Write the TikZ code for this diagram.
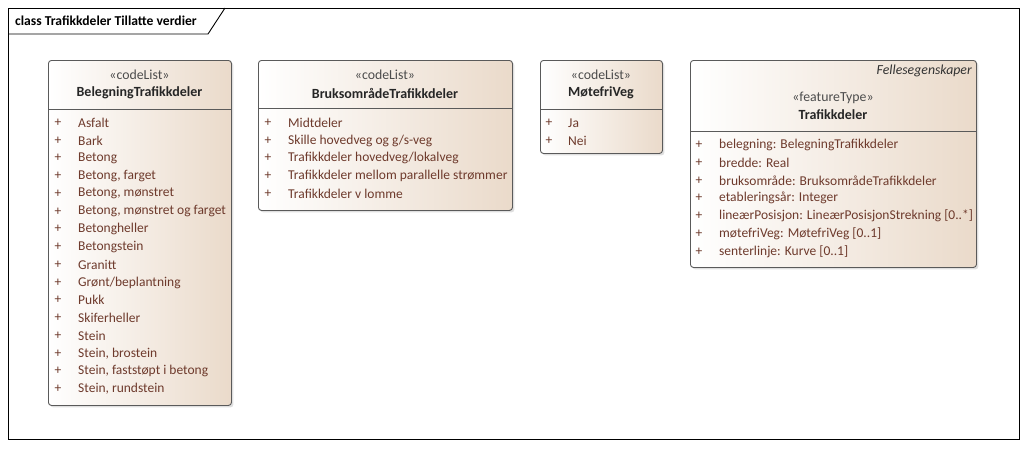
\documentclass[tikz,border=0pt]{standalone}
\usepackage{fontspec}
\setmainfont{Carlito}
\usetikzlibrary{shadows}
\definecolor{boxtan}{HTML}{EADACA}
\definecolor{itemtxt}{HTML}{6E3A2C}
\definecolor{boxline}{HTML}{5A5A5A}
\tikzset{
  umlbox/.style={draw=boxline, line width=0.9pt, rounded corners=3pt, left color=white, right color=boxtan,
    drop shadow={shadow xshift=2pt, shadow yshift=-2pt, opacity=0.25}, anchor=north west, inner sep=0pt},
  sepline/.style={draw=boxline, line width=0.9pt},
  stereo/.style={text=black!70, font=\fontsize{13.8}{15}\selectfont, inner sep=0pt},
  cname/.style={text=black!85, font=\fontsize{14}{15}\selectfont\bfseries, inner sep=0pt},
  plus/.style={text=itemtxt, font=\fontsize{13.5}{15}\selectfont, inner sep=0pt},
  item/.style={anchor=west, text=itemtxt, font=\fontsize{13.5}{15}\selectfont, inner sep=0pt}
}

\begin{document}
\begin{tikzpicture}[x=1pt, y=-1pt]
\useasboundingbox (0,0) rectangle (1028,448);
\draw[line width=0.9pt] (8,8) rectangle (1019,439);
\draw[line width=0.9pt] (8,34) -- (208,34) -- (225,8);
\node[anchor=west, inner sep=0pt, font=\fontsize{13.6}{15}\selectfont\bfseries] (title) at (15,21) {class Trafikkdeler Tillatte verdier};

\node[umlbox, minimum width=183pt, minimum height=345pt] (beleg) at (48,60) {};
\draw[sepline] (beleg.west |- 0,109) -- (beleg.east |- 0,109);
\node[stereo] (belegst) at (139.5,75) {«codeList»};
\node[cname] (belegnm) at (139.5,93) {BelegningTrafikkdeler};
\foreach \t [count=\i] in {Asfalt, Bark, Betong, {Betong, farget}, {Betong, mønstret}, {Betong, mønstret og farget},
  Betongheller, Betongstein, Granitt, Grønt/beplantning, Pukk, Skiferheller, Stein, {Stein, brostein},
  {Stein, faststøpt i betong}, {Stein, rundstein}}
{
  \node[plus] (bp\i) at (58,105+17.75*\i) {+};
  \node[item] (bi\i) at (78,105+17.75*\i) {\t};
}

\node[umlbox, minimum width=254pt, minimum height=150pt] (bruk) at (258,60) {};
\draw[sepline] (bruk.west |- 0,108) -- (bruk.east |- 0,108);
\node[stereo] (brukst) at (385,75) {«codeList»};
\node[cname] (bruknm) at (385,93) {BruksområdeTrafikkdeler};
\foreach \t [count=\i] in {Midtdeler, Skille hovedveg og g/s-veg, Trafikkdeler hovedveg/lokalveg,
  Trafikkdeler mellom parallelle strømmer, Trafikkdeler v lomme}
{
  \node[plus] (rp\i) at (268,105+17.75*\i) {+};
  \node[item] (ri\i) at (288,105+17.75*\i) {\t};
}

\node[umlbox, minimum width=122pt, minimum height=93pt] (mote) at (540,60) {};
\draw[sepline] (mote.west |- 0,109) -- (mote.east |- 0,109);
\node[stereo] (motest) at (601,75) {«codeList»};
\node[cname] (motenm) at (601,93) {MøtefriVeg};
\foreach \t [count=\i] in {Ja, Nei}
{
  \node[plus] (mp\i) at (549,105+17.75*\i) {+};
  \node[item] (mi\i) at (568,105+17.75*\i) {\t};
}

\node[umlbox, minimum width=286pt, minimum height=207pt] (trafikk) at (690,60) {};
\draw[sepline] (trafikk.west |- 0,131) -- (trafikk.east |- 0,131);
\node[anchor=east, inner sep=0pt, text=black!80, font=\fontsize{13.8}{15}\selectfont\itshape] (felles) at (972,71) {Fellesegenskaper};
\node[stereo] (trafikkst) at (833,98) {«featureType»};
\node[cname] (trafikknm) at (833,115) {Trafikkdeler};
\foreach \t [count=\i] in {belegning: BelegningTrafikkdeler, bredde: Real, bruksområde: BruksområdeTrafikkdeler,
  etableringsår: Integer, lineærPosisjon: LineærPosisjonStrekning [0..*], møtefriVeg: MøtefriVeg [0..1],
  senterlinje: Kurve [0..1]}
{
  \node[plus] (tp\i) at (699,127.25+17.75*\i) {+};
  \node[item] (ti\i) at (719,127.25+17.75*\i) {\t};
}
\end{tikzpicture}
\end{document}
